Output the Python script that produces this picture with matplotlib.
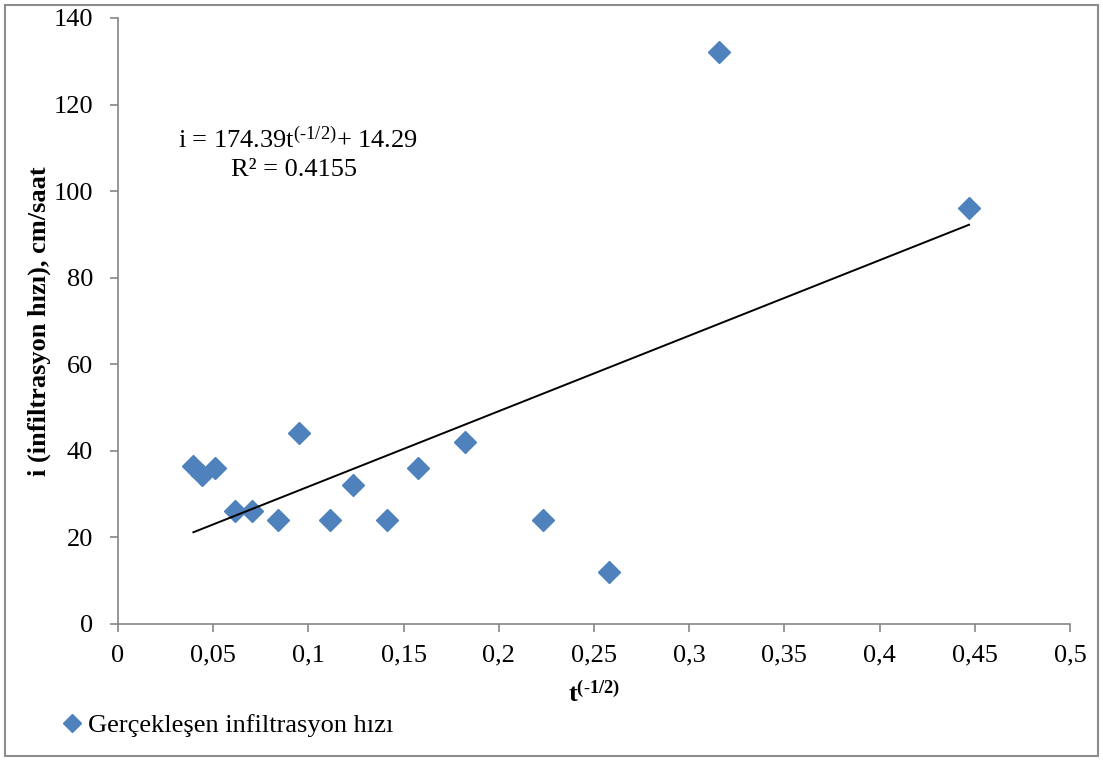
import matplotlib
matplotlib.use("Agg")
import matplotlib.pyplot as plt
from matplotlib.patches import Rectangle
from matplotlib.ticker import FixedLocator, FixedFormatter
import numpy as np

# Data
t_inv_sqrt = [0.0396, 0.0443, 0.0509, 0.0616, 0.0702, 0.0842, 0.0949, 0.1115,
              0.1236, 0.1413, 0.1577, 0.1822, 0.2232, 0.2579, 0.3157, 0.4470]
rate = [36.6, 34.4, 36.1, 26.1, 26.1, 24.1, 44.1, 24.1,
        32.0, 24.1, 36.1, 42.0, 24.0, 12.0, 132.1, 96.1]
slope = 174.39
intercept = 14.29
r2 = 0.4155
x_ticks = [0, 0.05, 0.1, 0.15, 0.2, 0.25, 0.3, 0.35, 0.4, 0.45, 0.5]
x_tick_labels = ["0", "0,05", "0,1", "0,15", "0,2", "0,25", "0,3", "0,35", "0,4", "0,45", "0,5"]
y_ticks = [0, 20, 40, 60, 80, 100, 120, 140]
series_label = "Gerçekleşen infiltrasyon hızı"

plt.rcParams['font.family'] = ['Liberation Serif', 'DejaVu Serif']
plt.rcParams['mathtext.fontset'] = 'custom'
plt.rcParams['mathtext.rm'] = 'Liberation Serif'
plt.rcParams['mathtext.bf'] = 'Liberation Serif:bold'

W, H = 1103, 760
fig = plt.figure(figsize=(W / 100, H / 100), dpi=100)
ax = fig.add_axes([118 / W, 1 - 624 / H, (1070 - 118) / W, (624 - 18) / H])

spine_col = '#868686'
sc = ax.plot(t_inv_sqrt, rate, linestyle='none', marker='D', markersize=11,
             color='#4F81BD', markeredgecolor='#4F81BD', label=series_label, zorder=3)[0]

xs = np.array([min(t_inv_sqrt), max(t_inv_sqrt)])
ax.plot(xs, slope * xs + intercept, color='black', linewidth=1.4, zorder=4)

ax.set_xlim(0, 0.5)
ax.set_ylim(0, 140)
ax.xaxis.set_major_locator(FixedLocator(x_ticks))
ax.xaxis.set_major_formatter(FixedFormatter(x_tick_labels))
ax.set_yticks(y_ticks)
for s in ['top', 'right']:
    ax.spines[s].set_visible(False)
for s in ['left', 'bottom']:
    ax.spines[s].set_color(spine_col)
    ax.spines[s].set_linewidth(1.2)
ax.tick_params(direction='out', length=6, width=1.2, color=spine_col,
               labelsize=19)
ax.tick_params(axis='x', pad=9)
ax.tick_params(axis='y', pad=12)

ax.set_xlabel(r'$\mathbf{t^{(\text{-}1/2)}}$', fontsize=19, labelpad=10)
ax.set_ylabel('i (infiltrasyon hızı), cm/saat', fontsize=19, fontweight='bold', labelpad=2)

ax.text(0.0945, 111.8, r'i = 174.39t$\mathregular{^{(\text{-}1/2)}}$+ 14.29', fontsize=19,
        ha='center', va='center')
ax.text(0.0924, 104.9, 'R² = 0.4155', fontsize=19, ha='center', va='center')

fig.legend(handles=[sc], loc='center left', bbox_to_anchor=(60 / W, 1 - 725 / H),
           frameon=False, fontsize=19, handletextpad=0.15, handlelength=0.9,
           markerscale=0.8, borderaxespad=0, borderpad=0)

fig.patches.append(Rectangle((5 / W, 4 / H), (1098 - 5) / W, (755 - 4) / H,
                             transform=fig.transFigure, fill=False,
                             edgecolor='#8c8c8c', linewidth=1.5))

fig.savefig('out.png', dpi=100)
